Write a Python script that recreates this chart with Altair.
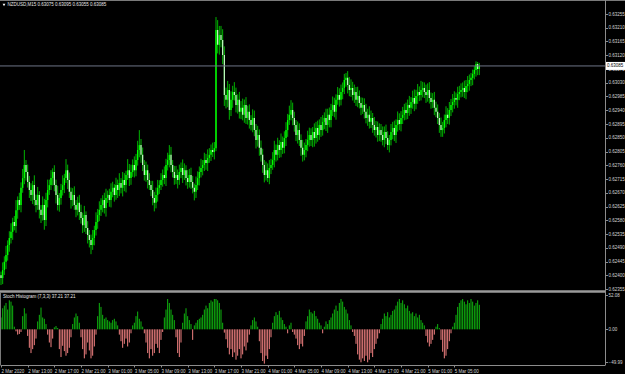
import json
import altair as alt
import pandas as pd

# ---------------- data ----------------
symbol_title = "NZDUSD,M15"
hist_title = "Stoch Histogram (7,3,3) 37.21 37.21"

first_open = 62400  # price in points (1e-5)
closes = [
    62391, 62417, 62444, 62466, 62499, 62522,
    62542, 62574, 62561, 62613, 62646, 62630,
    62686, 62718, 62761, 62738, 62705, 62679,
    62663, 62695, 62646, 62630, 62663, 62614,
    62597, 62630, 62581, 62646, 62679, 62695,
    62718, 62738, 62695, 62663, 62630, 62653,
    62679, 62695, 62718, 62744, 62712, 62673,
    62646, 62663, 62630, 62614, 62637, 62607,
    62587, 62564, 62597, 62555, 62532, 62515,
    62499, 62522, 62548, 62574, 62597, 62614,
    62630, 62646, 62620, 62653, 62663, 62646,
    62673, 62686, 62663, 62695, 62679, 62702,
    62686, 62712, 62695, 62728, 62744, 62718,
    62738, 62761, 62744, 62777, 62810, 62826,
    62794, 62761, 62728, 62744, 62712, 62695,
    62679, 62653, 62637, 62663, 62686, 62695,
    62712, 62728, 62718, 62761, 62777, 62794,
    62761, 62738, 62718, 62728, 62712, 62738,
    62751, 62728, 62744, 62718, 62705, 62728,
    62705, 62686, 62673, 62695, 62718, 62738,
    62751, 62761, 62777, 62767, 62784, 62794,
    62810, 62803, 62816, 63203, 63154, 63186,
    63170, 63121, 62990, 62974, 63006, 62941,
    62974, 63000, 62990, 62957, 62974, 62935,
    62948, 62925, 62957, 62915, 62935, 62908,
    62892, 62915, 62875, 62843, 62859, 62817,
    62794, 62761, 62728, 62744, 62718, 62751,
    62761, 62777, 62810, 62794, 62826, 62810,
    62836, 62817, 62849, 62875, 62908, 62925,
    62941, 62915, 62892, 62859, 62875, 62843,
    62817, 62794, 62810, 62826, 62843, 62859,
    62843, 62869, 62849, 62882, 62859, 62892,
    62875, 62902, 62915, 62892, 62925, 62908,
    62941, 62957, 62935, 62974, 62990, 62974,
    63000, 63013, 63039, 63046, 63023, 63006,
    63013, 62990, 63000, 62974, 62987, 62964,
    62948, 62957, 62935, 62915, 62925, 62902,
    62915, 62892, 62875, 62885, 62859, 62875,
    62859, 62843, 62869, 62849, 62826, 62843,
    62869, 62882, 62859, 62892, 62908, 62895,
    62915, 62925, 62941, 62931, 62957, 62948,
    62967, 62980, 62961, 62987, 63000, 62990,
    63006, 63013, 63000, 62990, 63006, 62980,
    62967, 62974, 62948, 62935, 62915, 62892,
    62875, 62882, 62908, 62925, 62915, 62941,
    62957, 62967, 62980, 62974, 62993, 63000,
    63006, 63013, 63000, 63019, 63026, 63039,
    63046, 63059, 63072, 63091, 63075, 63085,
]
up_wick = [
    12, 25, 18, 30, 15, 22,  28, 14, 20, 33, 12, 24,  18, 30, 49, 16, 24, 20,
    22, 14, 32, 18, 26, 12,  16, 28, 20, 24, 34, 18,  26, 12, 22, 18, 30, 16,
    20, 32, 14, 36, 18, 24,  14, 22, 28, 16, 20, 26,  24, 18, 30, 12, 22, 16,
    18, 26, 14, 32, 20, 28,  22, 16, 24, 30, 14, 20,  28, 20, 12, 24, 18, 32,
    16, 26, 22, 14, 36, 20,  24, 18, 28, 20, 30, 49,  20, 24, 16, 28, 18, 22,
    14, 30, 20, 24, 26, 16,  22, 18, 28, 20, 24, 32,  26, 16, 20, 30, 18, 24,
    18, 28, 22, 16, 26, 20,  24, 20, 14, 28, 22, 18,  30, 16, 24, 20, 28, 22,
    18, 24, 20, 42, 32, 30,  30, 35, 28, 24, 30, 20,  28, 20, 32, 24, 18, 26,
    22, 30, 18, 26, 20, 24,  16, 28, 24, 20, 30, 18,  24, 20, 16, 28, 22, 26,
    20, 26, 30, 18, 24, 16,  28, 18, 22, 26, 20, 30,  32, 24, 20, 16, 28, 22,
    18, 26, 24, 20, 30, 24,  22, 16, 28, 20, 24, 18,  26, 22, 18, 30, 20, 24,
    20, 28, 24, 18, 26, 22,  24, 18, 20, 16, 22, 26,  28, 20, 24, 16, 30, 18,
    18, 24, 22, 26, 20, 28,  24, 16, 26, 20, 18, 22,  20, 28, 18, 24, 22, 16,
    26, 20, 24, 18, 28, 22,  22, 26, 20, 24, 18, 30,  16, 24, 28, 20, 26, 18,
    30, 20, 18, 24, 22, 26,  18, 22, 26, 20, 24, 16,  24, 20, 18, 28, 22, 26,
    20, 26, 22, 18, 24, 20,  22, 18, 24, 20, 26, 18,  16, 14, 12, 9, 7, 10,
]
dn_wick = [
    23, 20, 16, 24, 18, 22,  18, 26, 14, 22, 28, 16,  24, 16, 20, 28, 18, 26,
    20, 30, 18, 24, 16, 28,  26, 18, 32, 20, 24, 16,  16, 24, 20, 28, 18, 22,
    22, 18, 26, 16, 30, 20,  28, 20, 16, 24, 18, 26,  18, 26, 22, 20, 28, 24,
    30, 16, 24, 18, 22, 20,  20, 24, 18, 28, 16, 22,  24, 18, 22, 16, 26, 20,
    18, 28, 20, 24, 16, 26,  22, 16, 24, 20, 18, 24,  26, 20, 18, 22, 28, 16,
    20, 24, 28, 18, 22, 20,  16, 22, 20, 26, 18, 24,  24, 18, 22, 20, 28, 16,
    20, 26, 16, 24, 22, 18,  22, 18, 28, 20, 16, 24,  18, 24, 20, 22, 26, 16,
    20, 16, 24, 10, 28, 32,  24, 30, 36, 28, 24, 32,  20, 26, 18, 24, 28, 22,
    24, 18, 26, 20, 22, 28,  18, 24, 20, 28, 22, 26,  22, 26, 24, 18, 13, 20,
    20, 16, 24, 22, 18, 26,  24, 20, 18, 26, 22, 16,  18, 24, 22, 20, 28, 20,
    26, 22, 18, 24, 20, 22,  20, 24, 28, 18, 22, 16,  22, 18, 24, 20, 26, 24,
    24, 20, 18, 26, 16, 22,  18, 24, 20, 22, 28, 20,  22, 18, 26, 20, 24, 18,
    24, 20, 22, 18, 26, 22,  20, 26, 18, 24, 22, 20,  22, 18, 24, 20, 16, 24,
    18, 24, 20, 26, 22, 20,  24, 20, 18, 22, 20, 26,  20, 22, 24, 18, 26, 20,
    18, 24, 20, 26, 22, 18,  22, 20, 24, 18, 20, 26,  22, 22, 18, 24, 20, 22,
    20, 24, 22, 18, 26, 20,  18, 22, 20, 24, 20, 22,  20, 24, 18, 22, 20, 20,
]
stoch = [
    18, 32, 36, 40, 30, 44, 42, 36, 4,
    -3,
    -8, -7, -4,
    20, 32, 24,
    -10, -28, -36, -30, -24, -14,
    12, 22, 33, 18, 16, 8,
    -8, -20, -27, -14,
    3, 5, 2,
    -30, -42, -25, -33, -40, -36, -28, -12,
    8, 18, 24, 20, 10,
    -12, -30, -44, -38, -20, -32, -44, -40, -26, -8,
    20, 40, 34, 22, 16, 18, 14, 12, 10, 14, 16, 12, 6,
    -8, -18, -28, -22, -14, -26, -20, -6,
    6, 10, 20, 27, 16, 12, 4,
    -6, -20, -36, -44, -30, -40, -36, -22, -28, -36, -16, -4,
    18, 30, 46, 40, 30, 22, 14,
    -12, -36, -42, -20,
    10, 24, 32, 20, 14, 8,
    -16,
    6, 10, 14, 16,
    18, 22, 30, 36, 32, 40, 44, 42,
    46, 46, 44, 40, 30,
    10, -5,
    -15, -28, -38, -30, -42, -35, -46, -40, -30, -44, -38, -26, -32, -20, -8,
    6, 14, 18, 12, 4,
    -18, -36, -48, -52, -40, -45, -30, -12,
    10, 20, 26, 22, 28, 18, 14, 8,
    4, -6, 6, 10, -4, -8,
    -14, -24, -30, -22, -26, -10,
    12, 20, 30, 26, 24, 28, 20, 16, 10,
    6, -6, 4, 12, 8, 14,
    18, 24, 30, 36, 28, 40, 46, 42, 34, 30, 24, 14,
    6, -4, -10,
    -22, -38, -46, -50, -44, -48, -40, -50, -46, -36, -42, -30, -22, -14, -6,
    8, 16, 24, 20, 26, 18, 22, 28, 30,
    36, 42, 46, 40, 44, 38, 32, 36, 28, 24,
    26, 20, 24, 18, 22, 14, 10, 6,
    -10, -20, -26, -22, -16, -8,
    4, 8, 2,
    -16, -34, -44, -40, -30, -18,
    -6, 4, 10,
    22, 34, 40, 44, 46, 42, 38, 44, 40, 46, 42, 36, 40, 44, 37.21,
]
price_ticks = [0.63255, 0.63210, 0.63165, 0.63120, 0.63075, 0.63030, 0.62985,
               0.62940, 0.62895, 0.62850, 0.62805, 0.62760, 0.62715, 0.62670,
               0.62625, 0.62580, 0.62535, 0.62490, 0.62445, 0.62400, 0.62355]
hist_ticks = [52.08, 0.0, -49.99]
time_labels = ["2 Mar 2020", "2 Mar 13:00", "2 Mar 17:00", "2 Mar 21:00",
               "3 Mar 01:00", "3 Mar 05:00", "3 Mar 09:00", "3 Mar 13:00",
               "3 Mar 17:00", "3 Mar 21:00", "4 Mar 01:00", "4 Mar 05:00",
               "4 Mar 09:00", "4 Mar 13:00", "4 Mar 17:00", "4 Mar 21:00",
               "5 Mar 01:00", "5 Mar 05:00"]
bars_per_label = 16

# ---------------- tables ----------------
n = min(len(closes), len(up_wick), len(dn_wick))
c = [v / 1e5 for v in closes[:n]]
o = [first_open / 1e5] + c[:-1]
h = [max(o[k], c[k]) + up_wick[k] / 1e5 for k in range(n)]
l = [min(o[k], c[k]) - dn_wick[k] / 1e5 for k in range(n)]
df = pd.DataFrame({"i": range(n), "o": o, "h": h, "l": l, "c": c})
up_df = df[df.c >= df.o]
dn_df = df[df.c < df.o]
last_df = df.tail(1)

hdf = pd.DataFrame({"i": range(len(stoch)), "v": stoch})
hdf["zero"] = 0.0
pos_df = hdf[hdf.v >= 0]
neg_df = hdf[hdf.v < 0]

title_text = f"{symbol_title} {o[-1]:.5f} {h[-1]:.5f} {l[-1]:.5f} {c[-1]:.5f}"
txt_df = pd.DataFrame({"t": [title_text], "s": [hist_title]})

# ---------------- styling ----------------
FONT = "Liberation Sans"
LBL = "#d4d4d4"
GRID = "#8c8c8c"
W, H = 605, 365
FS = 4.5

xs = alt.Scale(domain=[-0.6, 362.4], range=[0, W], nice=False, zero=False)
ys = alt.Scale(domain=[0.62355, 0.63255], range=[289, 14], nice=False, zero=False)
hs = alt.Scale(domain=[-49.99, 52.08], range=[362.3, 295], nice=False, zero=False)

label_js = json.dumps(time_labels)
xaxis = alt.Axis(values=list(range(0, bars_per_label * len(time_labels), bars_per_label)),
                 labelExpr=f"{label_js}[round(datum.value/{bars_per_label})]",
                 labelAlign="left", labelBaseline="top", labelPadding=1.5, tickSize=2,
                 tickColor=GRID, domainColor=GRID, labelColor=LBL, labelFontSize=FS,
                 labelFont=FONT, grid=False, title=None, labelOverlap=False,
                 labelBound=False, labelFlush=False)
yaxis = alt.Axis(orient="right", values=price_ticks, format=".5f", tickSize=2.5,
                 tickColor=GRID, domain=False, grid=False, labelFontSize=FS,
                 labelFont=FONT, labelPadding=0.5, labelColor=LBL, title=None,
                 labelOverlap=False, labelBound=False, labelFlush=False)
haxis = alt.Axis(orient="right", values=hist_ticks, format=".2f", tickSize=2.5,
                 tickColor=GRID, domain=False, grid=False, labelFontSize=FS,
                 labelFont=FONT, labelPadding=0.5, labelColor=LBL, title=None,
                 labelOverlap=False, labelBound=False, labelFlush=False)

X = alt.X("i:Q", scale=xs, axis=xaxis)

wicks = alt.Chart(df).mark_rule(color="#00b400", strokeWidth=1).encode(
    x=X, y=alt.Y("l:Q", scale=ys, axis=yaxis), y2="h:Q")
bull = alt.Chart(up_df).mark_rule(color="#00ff00", strokeWidth=1.4).encode(
    x=X, y=alt.Y("o:Q", scale=ys, axis=None), y2="c:Q")
bear = alt.Chart(dn_df).mark_rule(color="#c8ffc8", strokeWidth=1.2).encode(
    x=X, y=alt.Y("o:Q", scale=ys, axis=None), y2="c:Q")

price_line = alt.Chart(last_df).mark_rule(color="#6e7487", strokeWidth=1).encode(
    y=alt.Y("c:Q", scale=ys, axis=None), x=alt.value(0), x2=alt.value(W))
price_box = alt.Chart(last_df).mark_rect(color="white", yOffset=-4, y2Offset=4).encode(
    y=alt.Y("c:Q", scale=ys, axis=None), y2="c:Q", x=alt.value(606), x2=alt.value(625))
price_txt = alt.Chart(last_df).mark_text(align="left", baseline="middle", fontSize=FS,
                                         font=FONT, color="black").encode(
    y=alt.Y("c:Q", scale=ys, axis=None), x=alt.value(607),
    text=alt.Text("c:Q", format=".5f"))

hpos = alt.Chart(pos_df).mark_rule(color="#0fb40f", strokeWidth=1).encode(
    x=X, y=alt.Y("v:Q", scale=hs, axis=haxis), y2="zero:Q")
hneg = alt.Chart(neg_df).mark_rule(color="#f08080", strokeWidth=1).encode(
    x=X, y=alt.Y("v:Q", scale=hs, axis=None), y2="zero:Q")

sep = alt.Chart(txt_df).mark_rule(color="#9a9a9a", strokeWidth=2.5).encode(
    x=alt.value(0), x2=alt.value(W), y=alt.value(291.5))
top_line = alt.Chart(txt_df).mark_rule(color="#7a7a7a", strokeWidth=1).encode(
    x=alt.value(0), x2=alt.value(625), y=alt.value(0.5))
right_line = alt.Chart(txt_df).mark_rule(color=GRID, strokeWidth=1).encode(
    x=alt.value(W + 0.5), y=alt.value(0), y2=alt.value(H))
left_line = alt.Chart(txt_df).mark_rule(color="#7a7a7a", strokeWidth=1).encode(
    x=alt.value(0.5), y=alt.value(292), y2=alt.value(H))

icon = alt.Chart(txt_df).mark_point(shape="triangle-down", filled=True, color="white",
                                    size=8, opacity=1).encode(
    x=alt.value(4), y=alt.value(5))
title_mark = alt.Chart(txt_df).mark_text(align="left", baseline="middle", fontSize=FS,
                                         font=FONT, color="#e8e8e8").encode(
    x=alt.value(7.5), y=alt.value(5), text="t:N")
htitle_mark = alt.Chart(txt_df).mark_text(align="left", baseline="middle", fontSize=FS,
                                          font=FONT, color="#e8e8e8").encode(
    x=alt.value(3), y=alt.value(296.5), text="s:N")

chart = alt.layer(
    hpos, hneg, wicks, bull, bear, price_line, sep, top_line, right_line, left_line,
    price_box, price_txt, icon, title_mark, htitle_mark
).resolve_scale(y="independent").properties(
    width=W, height=H,
    autosize=alt.AutoSizeParams(type="none"),
    padding={"left": 0, "top": 0, "right": 20, "bottom": 9},
    background="black",
).configure_view(strokeWidth=0)

chart.save("out.html", embed_options={"renderer": "svg", "actions": False})
